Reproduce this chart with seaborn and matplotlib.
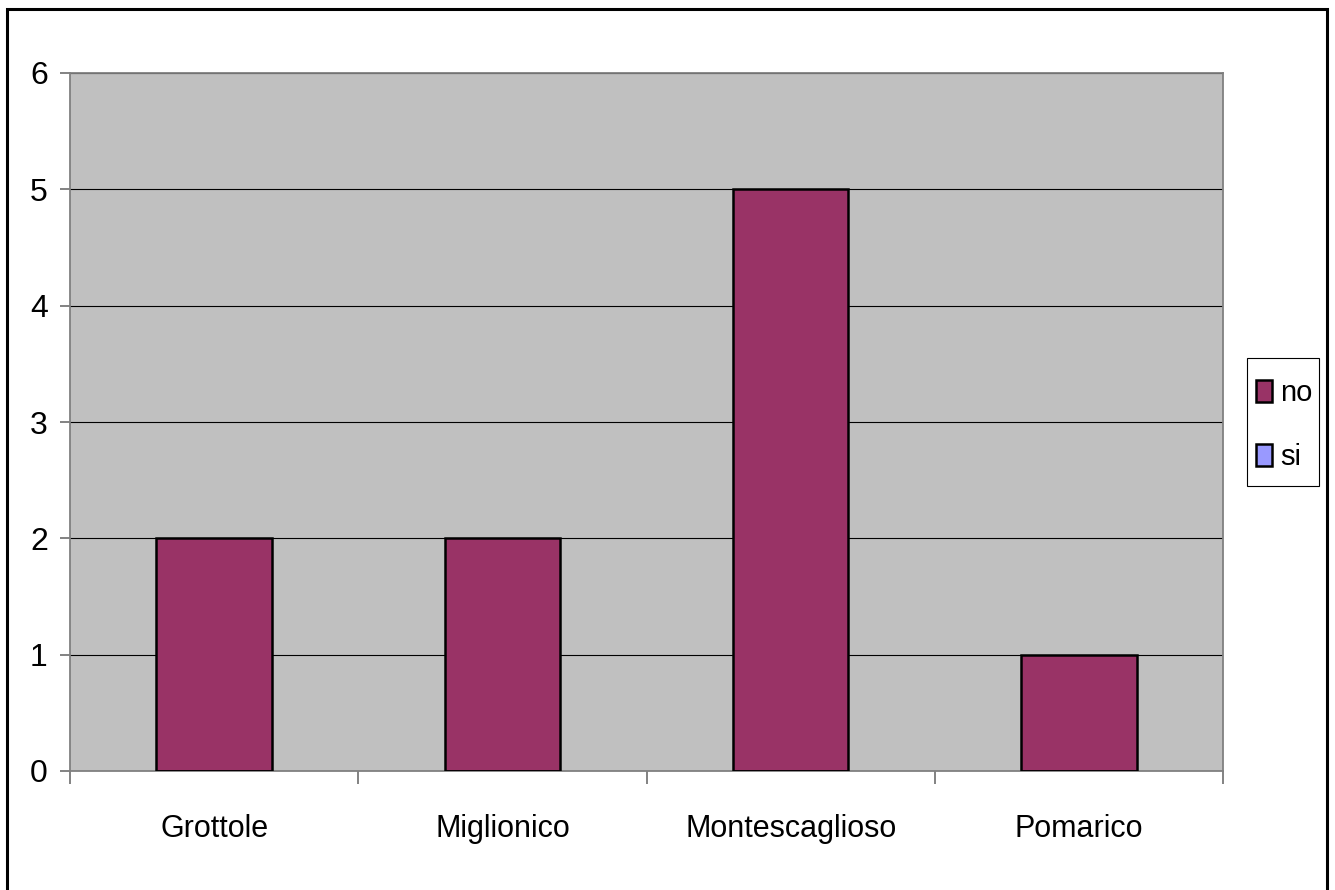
import matplotlib
matplotlib.use("Agg")
import matplotlib.pyplot as plt
import matplotlib.patches as mpatches
import seaborn as sns
import pandas as pd

# Data
comuni = ["Grottole", "Miglionico", "Montescaglioso", "Pomarico"]
risposte = ["no", "si"]
valori_no = [2, 2, 5, 1]
valori_si = [0, 0, 0, 0]
yticks = [0, 1, 2, 3, 4, 5, 6]
colori = {"no": "#993366", "si": "#9999FF"}

df = pd.DataFrame({
    "comune": comuni * 2,
    "risposta": ["no"] * len(comuni) + ["si"] * len(comuni),
    "valore": valori_no + valori_si,
})

plt.rcParams["font.family"] = ["Liberation Sans", "DejaVu Sans"]

W, H = 1335, 890
fig = plt.figure(figsize=(W / 100, H / 100), dpi=100)
fig.patch.set_facecolor("white")

# plot area in pixel coordinates
left, right, top, bottom = 70, 1223, 73, 771
ax = fig.add_axes([left / W, 1 - bottom / H, (right - left) / W, (bottom - top) / H])
ax.set_facecolor("#C0C0C0")

sns.barplot(data=df, x="comune", y="valore", hue="risposta", order=comuni,
            hue_order=risposte, palette=colori, dodge=False, width=0.4,
            edgecolor="black", linewidth=1.8, saturation=1, legend=False,
            ax=ax, zorder=3)

ax.set_xlim(-0.5, len(comuni) - 0.5)
ax.set_ylim(0, 6)
ax.set_yticks(yticks)
ax.set_yticklabels([str(t) for t in yticks], fontsize=23)
ax.set_xticks(range(len(comuni)))
ax.set_xticklabels(comuni, fontsize=22)
ax.set_xticks([i - 0.5 for i in range(len(comuni) + 1)], minor=True)
ax.set_xlabel("")
ax.set_ylabel("")

ax.grid(axis="y", color="black", linewidth=0.8)
ax.grid(axis="x", visible=False)
ax.set_axisbelow(True)

ax.tick_params(axis="x", which="major", length=0, pad=31)
ax.tick_params(axis="x", which="minor", length=9, width=1.1, color="#606060")
ax.tick_params(axis="y", which="major", length=7, width=1.1, color="#606060", pad=9)

for side in ["left", "bottom", "top", "right"]:
    ax.spines[side].set_color("#808080")
    ax.spines[side].set_linewidth(1.3)

# legend box (pixel coordinates) and its entries
lx0, lx1, ly0, ly1 = 1247, 1319, 358, 486
fig.patches.append(mpatches.Rectangle((lx0 / W, 1 - ly1 / H), (lx1 - lx0) / W, (ly1 - ly0) / H,
                                      transform=fig.transFigure, facecolor="white",
                                      edgecolor="black", linewidth=0.8, zorder=1))
handles = [mpatches.Patch(facecolor=colori[r], edgecolor="black", linewidth=1.8) for r in risposte]
leg = fig.legend(handles, risposte, loc="center",
                 bbox_to_anchor=((lx0 + lx1) / 2 / W + 0.001, 1 - ((ly0 + ly1) / 2 + 3) / H),
                 borderaxespad=0, fontsize=21, frameon=False,
                 handlelength=0.55, handleheight=0.78, handletextpad=0.3,
                 labelspacing=1.25, borderpad=0)
leg.set_zorder(2)

# outer chart border
fig.patches.append(mpatches.Rectangle((7 / W, -0.05), (1327 - 7) / W, 1.05 - 9 / H,
                                      transform=fig.transFigure, fill=False,
                                      edgecolor="black", linewidth=2.2))

fig.savefig("out.png", dpi=100)
